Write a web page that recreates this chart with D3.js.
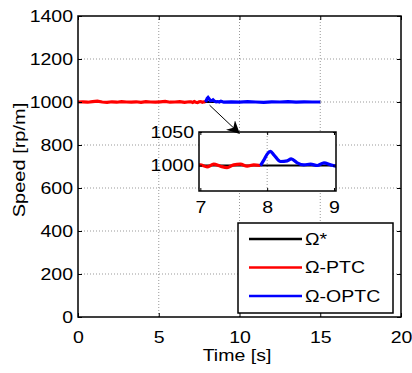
<!DOCTYPE html>
<html>
<head>
<meta charset="utf-8">
<script src="https://cdn.jsdelivr.net/npm/d3@7"></script>
<style>
  body { margin: 0; background: #fff; }
  text { font-family: "Liberation Sans", Arial, sans-serif; fill: #000; }
</style>
</head>
<body>
<svg id="chart"></svg>
<script>
// reference speed
const refTime = [0, 15];
const refSpeed = [1000, 1000];

// PTC (red) run, 0 .. 7.9 s
const ptcTime = [0, 0.3, 0.6, 0.9, 1.2, 1.5, 1.8, 2.1, 2.4, 2.7, 3.0, 3.3, 3.6, 3.9, 4.2, 4.5,
  4.8, 5.1, 5.4, 5.7, 6.0, 6.3, 6.6, 6.9, 7.0, 7.1, 7.2, 7.3, 7.4, 7.5, 7.6, 7.7, 7.8, 7.9];
const ptcSpeed = [1000, 1001, 999, 1002, 1004, 1000, 998, 1001, 999, 1002, 1000, 999, 1001, 998, 1002, 1000,
  999, 1001, 1003, 999, 1000, 1002, 998, 1001, 1001, 998, 1002, 999, 997, 1001, 1002, 999, 1001, 1000];

// OPTC (blue) run, 7.9 .. 15 s
const optcTime = [7.9, 7.95, 8.0, 8.05, 8.1, 8.2, 8.3, 8.36, 8.45, 8.55, 8.65, 8.75, 8.85, 8.95, 9.03,
  9.5, 10, 10.5, 11, 11.5, 12, 12.5, 13, 13.5, 14, 14.5, 15];
const optcSpeed = [1000, 1008, 1017, 1021, 1016, 1006, 1007, 1010, 1004, 1001, 1002, 1000, 1004, 1001, 999,
  1001, 999, 1002, 1000, 998, 1001, 1000, 1002, 999, 1001, 1000, 1000];

const xTicks = [0, 5, 10, 15, 20];
const yTicks = [0, 200, 400, 600, 800, 1000, 1200, 1400];
const insetXTicks = [7, 8, 9];
const insetYTicks = [1000, 1050];

const series = [
  { name: "\u03A9*", color: "#000", t: refTime, v: refSpeed },
  { name: "\u03A9-PTC", color: "#ff0000", t: ptcTime, v: ptcSpeed },
  { name: "\u03A9-OPTC", color: "#0000ff", t: optcTime, v: optcSpeed }
];

const width = 412, height = 373;
const svg = d3.select("#chart").attr("width", width).attr("height", height);

const x = d3.scaleLinear().domain([0, 20]).range([78, 401]);
const y = d3.scaleLinear().domain([0, 1400]).range([317, 16]);

const fontSize = 16;
const stretchX = 1.22;

// the picture's text is wider than plain Arial, stretch it around its anchor
function stretch(sel, k) {
  sel.each(function() {
    const t = d3.select(this);
    const ax = +t.attr("x") || 0, ay = +t.attr("y") || 0;
    t.attr("transform", `translate(${ax},${ay}) scale(${k},1) translate(${-ax},${-ay})`);
  });
}

// grid
const grid = svg.append("g");
grid.selectAll(".gx").data(xTicks.slice(1, -1)).join("line")
  .attr("x1", d => x(d)).attr("x2", d => x(d))
  .attr("y1", y(0)).attr("y2", y(1400))
  .attr("stroke", "#999").attr("stroke-dasharray", "1,2");
grid.selectAll(".gy").data(yTicks.slice(1, -1)).join("line")
  .attr("y1", d => y(d)).attr("y2", d => y(d))
  .attr("x1", x(0)).attr("x2", x(20))
  .attr("stroke", "#999").attr("stroke-dasharray", "1,2");

// data lines
const line = d3.line().x(d => x(d[0])).y(d => y(d[1]));
series.forEach((s, i) => {
  svg.append("path")
    .datum(s.t.map((t, j) => [t, s.v[j]]))
    .attr("d", line)
    .attr("fill", "none")
    .attr("stroke", s.color)
    .attr("stroke-width", i == 0 ? 2 : 3.2);
});

// axes
const fmt = d3.format("d");
const mainAxes = svg.append("g");
mainAxes.append("g").attr("transform", `translate(0,${y(0)})`)
  .call(d3.axisBottom(x).tickValues(xTicks).tickSize(-4).tickPadding(15).tickFormat(fmt))
  .call(g => g.select(".domain").remove());
mainAxes.append("g").attr("transform", `translate(0,${y(1400)})`)
  .call(d3.axisTop(x).tickValues(xTicks).tickSize(-4).tickFormat(""))
  .call(g => g.select(".domain").remove());
mainAxes.append("g").attr("transform", `translate(${x(0)},0)`)
  .call(d3.axisLeft(y).tickValues(yTicks).tickSize(-4).tickPadding(5).tickFormat(fmt))
  .call(g => g.select(".domain").remove());
mainAxes.append("g").attr("transform", `translate(${x(20)},0)`)
  .call(d3.axisRight(y).tickValues(yTicks).tickSize(-4).tickFormat(""))
  .call(g => g.select(".domain").remove());
mainAxes.selectAll(".tick text").style("font-size", fontSize + "px")
  .style("font-family", "Liberation Sans, Arial").call(stretch, stretchX);
mainAxes.selectAll(".tick line").attr("stroke", "#000");

svg.append("rect")
  .attr("x", x(0)).attr("y", y(1400))
  .attr("width", x(20) - x(0)).attr("height", y(0) - y(1400))
  .attr("fill", "none").attr("stroke", "#000").attr("stroke-width", 1.5);

// labels
svg.append("text").attr("x", 237).attr("y", 361)
  .attr("text-anchor", "middle").style("font-size", fontSize + "px").text("Time [s]")
  .call(stretch, stretchX);
svg.append("text").attr("transform", `translate(25,160) rotate(-90) scale(1.25,1)`)
  .attr("text-anchor", "middle").style("font-size", fontSize + "px").text("Speed [rp/m]");

// inset zoom
const ix = d3.scaleLinear().domain([6.98, 9.03]).range([199, 336]);
const iy = d3.scaleLinear().domain([962, 1050]).range([191, 132]);
const inset = svg.append("g");
inset.append("rect")
  .attr("x", ix.range()[0]).attr("y", iy.range()[1])
  .attr("width", ix.range()[1] - ix.range()[0]).attr("height", iy.range()[0] - iy.range()[1])
  .attr("fill", "#fff");
inset.append("clipPath").attr("id", "clipInset").append("rect")
  .attr("x", ix.range()[0]).attr("y", iy.range()[1])
  .attr("width", ix.range()[1] - ix.range()[0]).attr("height", iy.range()[0] - iy.range()[1]);
inset.append("line")
  .attr("x1", ix(8)).attr("x2", ix(8)).attr("y1", iy.range()[0]).attr("y2", iy.range()[1])
  .attr("stroke", "#999").attr("stroke-dasharray", "1,2");

const iline = d3.line().x(d => ix(d[0])).y(d => iy(d[1])).curve(d3.curveMonotoneX);
const iplot = inset.append("g").attr("clip-path", "url(#clipInset)");
series.forEach((s, i) => {
  iplot.append("path")
    .datum(s.t.map((t, j) => [t, s.v[j]]))
    .attr("d", iline)
    .attr("fill", "none")
    .attr("stroke", s.color)
    .attr("stroke-width", i == 0 ? 2 : 3.2);
});

inset.append("g").attr("transform", `translate(0,${iy.range()[0]})`)
  .call(d3.axisBottom(ix).tickValues(insetXTicks).tickSize(-3).tickPadding(10).tickFormat(fmt))
  .call(g => g.select(".domain").remove());
inset.append("g").attr("transform", `translate(0,${iy.range()[1]})`)
  .call(d3.axisTop(ix).tickValues(insetXTicks).tickSize(-3).tickFormat(""))
  .call(g => g.select(".domain").remove());
inset.append("g").attr("transform", `translate(${ix.range()[0]},0)`)
  .call(d3.axisLeft(iy).tickValues(insetYTicks).tickSize(-3).tickPadding(5).tickFormat(fmt))
  .call(g => g.select(".domain").remove());
inset.append("g").attr("transform", `translate(${ix.range()[1]},0)`)
  .call(d3.axisRight(iy).tickValues(insetYTicks).tickSize(-3).tickFormat(""))
  .call(g => g.select(".domain").remove());
inset.selectAll(".tick text").style("font-size", "17px")
  .style("font-family", "Liberation Sans, Arial").call(stretch, 1.15);
inset.selectAll(".tick line").attr("stroke", "#000");
inset.append("rect")
  .attr("x", ix.range()[0]).attr("y", iy.range()[1])
  .attr("width", ix.range()[1] - ix.range()[0]).attr("height", iy.range()[0] - iy.range()[1])
  .attr("fill", "none").attr("stroke", "#000").attr("stroke-width", 1.5);

// arrow from main curve to inset
svg.append("defs").append("marker").attr("id", "head")
  .attr("viewBox", "0 0 10 10").attr("refX", 9).attr("refY", 5)
  .attr("markerWidth", 13).attr("markerHeight", 13).attr("markerUnits", "userSpaceOnUse")
  .attr("orient", "auto")
  .append("path").attr("d", "M0,0 L10,5 L0,10 L3,5 Z").attr("fill", "#000");
svg.append("line")
  .attr("x1", x(8.15)).attr("y1", y(985))
  .attr("x2", 239).attr("y2", 133)
  .attr("stroke", "#000").attr("stroke-width", 1)
  .attr("marker-end", "url(#head)");

// legend
const legend = svg.append("g");
legend.append("rect").attr("x", 238).attr("y", 223).attr("width", 155).attr("height", 90)
  .attr("fill", "#fff").attr("stroke", "#000").attr("stroke-width", 1.5);
series.forEach((s, i) => {
  const ly = 239 + i * 28.5;
  legend.append("line").attr("x1", 249).attr("x2", 302).attr("y1", ly).attr("y2", ly)
    .attr("stroke", s.color).attr("stroke-width", 2.5);
  legend.append("text").attr("x", 305).attr("y", ly + 6)
    .style("font-size", fontSize + "px").text(s.name)
    .call(stretch, stretchX);
});
</script>
</body>
</html>
